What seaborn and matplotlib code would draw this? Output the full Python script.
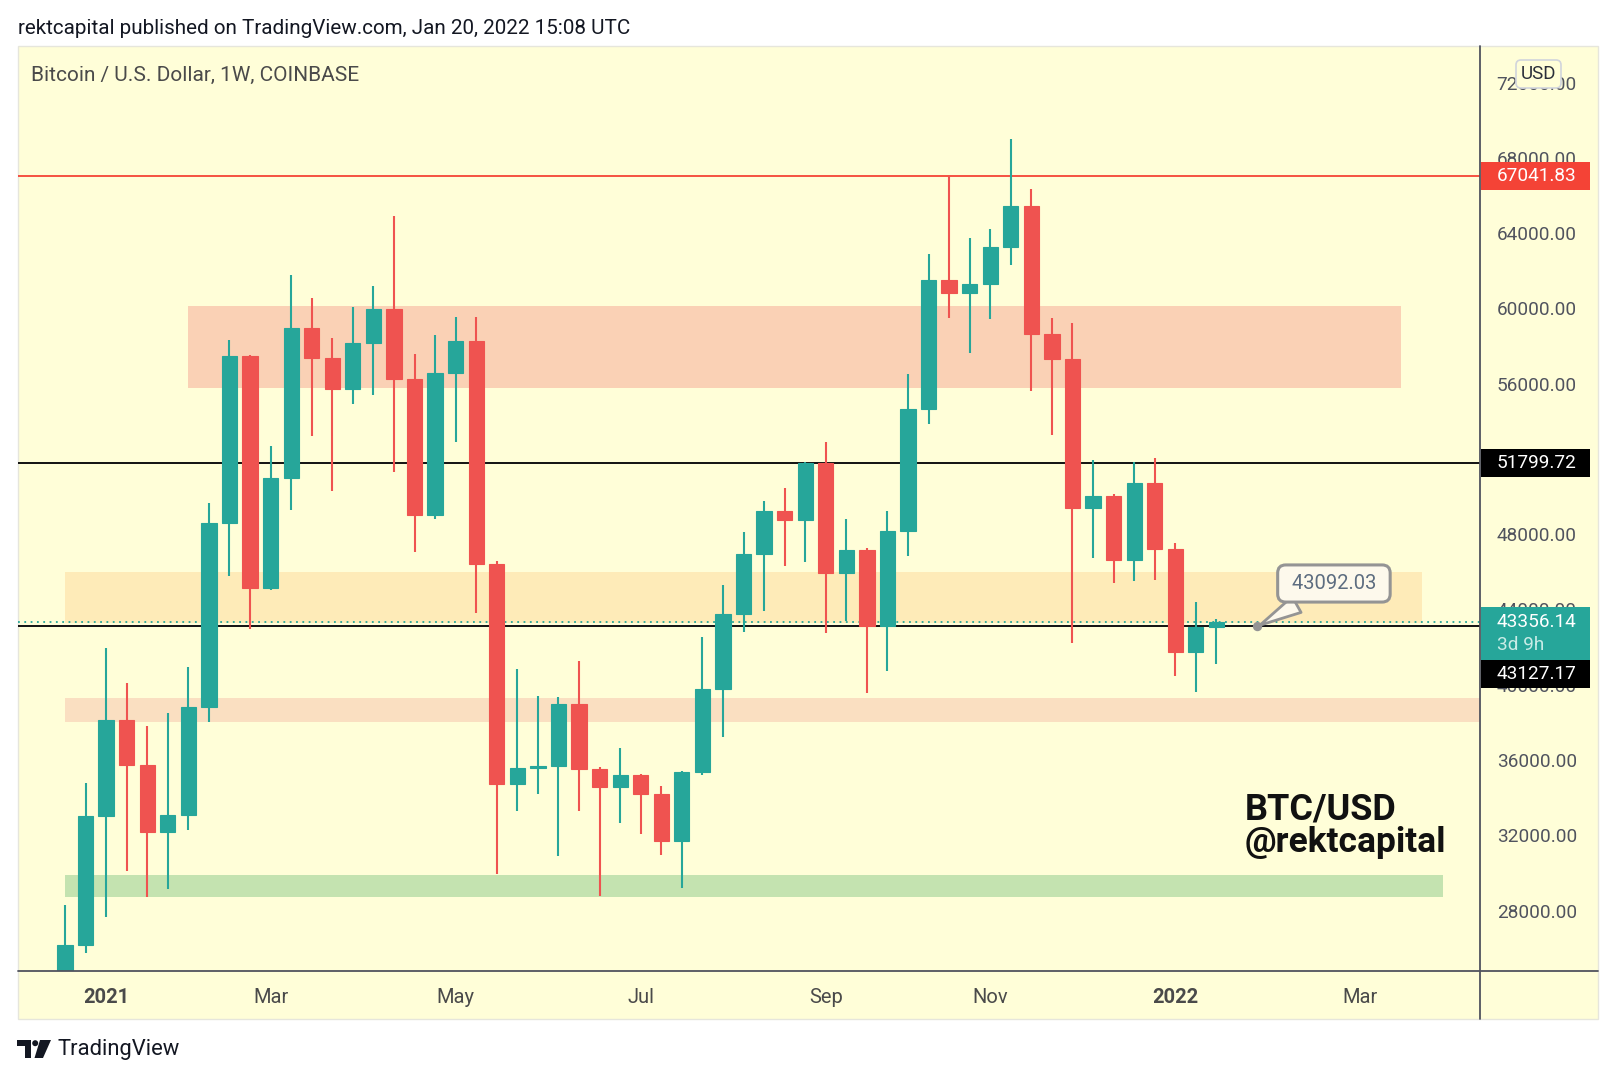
import numpy as np
import pandas as pd
import matplotlib
matplotlib.use("Agg")
import matplotlib.pyplot as plt
import matplotlib.dates as mdates
from matplotlib.patches import Rectangle, FancyBboxPatch, Circle, Polygon
from matplotlib.lines import Line2D
import seaborn as sns

# ---------------- data (weekly BTC/USD, Coinbase) ----------------
week_start = "2020-12-21"
opens = [23470, 26170, 33010, 38120, 35750, 32170, 33070, 38820, 48620, 57450,
         45150, 50960, 58940, 57340, 55740, 58180, 59950, 56250, 49030, 56580,
         58260, 46400, 34700, 35590, 35670, 38990, 35510, 34590, 35210, 34210,
         31710, 35350, 39770, 43760, 46970, 49250, 48760, 51790, 45940, 47180,
         43110, 48190, 54650, 61490, 60810, 61300, 63280, 65460, 58620, 57310,
         49410, 50010, 46610, 50740, 47210, 41760, 43080]
highs = [28320, 34780, 41970, 40070, 37790, 38500, 40940, 49660, 58340, 57530,
         52670, 61760, 60570, 58400, 60050, 61190, 64910, 57580, 58560, 59540,
         59540, 46590, 40830, 39390, 39340, 41270, 35650, 36650, 35260, 34610,
         35400, 42520, 45310, 48110, 49760, 50440, 51850, 52910, 48810, 47290,
         49250, 56520, 62880, 67041.83, 63720, 64240, 68990, 66330, 59510, 59210,
         51960, 50120, 51830, 52040, 47510, 44390, 43500]
lows = [22350, 25770, 27640, 30080, 28720, 29130, 32280, 38040, 45770, 42980,
        45010, 49300, 53240, 50280, 54920, 55410, 51280, 47050, 48810, 52890,
        43790, 29940, 33280, 34180, 30920, 33280, 28750, 32660, 32060, 30980,
        29210, 35180, 37220, 42790, 43930, 46290, 46530, 42760, 43380, 39580,
        40720, 46860, 53840, 59510, 57610, 59460, 62310, 55630, 53290, 42240,
        46720, 45420, 45500, 45580, 40450, 39640, 41080]
closes = [26170, 33010, 38120, 35750, 32170, 33070, 38820, 48620, 57450, 45150,
          50960, 58940, 57340, 55740, 58180, 59950, 56250, 49030, 56580, 58260,
          46400, 34700, 35590, 35670, 38990, 35510, 34590, 35210, 34210, 31710,
          35350, 39770, 43760, 46970, 49250, 48760, 51790, 45940, 47180, 43110,
          48190, 54650, 61490, 60810, 61300, 63280, 65460, 58620, 57310, 49410,
          50010, 46610, 50740, 47210, 41760, 43080, 43356.14]

# horizontal levels
level_red = 67041.83
level_black_hi = 51799.72
level_black_lo = 43127.17
last_price = 43356.14
callout_price = 43092.03
callout_date = "2022-01-31"

# zones: (start, end, low, high)
zone_starts = ["2021-02-01", "2020-12-21", "2020-12-21", "2020-12-21"]
zone_ends = ["2022-03-21", "2022-03-28", "2022-06-30", "2022-04-04"]
zone_lows = [55750, 43300, 38000, 28700]
zone_highs = [60100, 45970, 39300, 29900]

tick_dates = ["2021-01-04", "2021-03-01", "2021-05-03", "2021-07-05",
              "2021-09-06", "2021-11-01", "2022-01-03", "2022-03-07"]
tick_labels = ["2021", "Mar", "May", "Jul", "Sep", "Nov", "2022", "Mar"]
price_ticks = [28000, 32000, 36000, 40000, 44000, 48000, 52000, 56000,
               60000, 64000, 68000, 72000]

# ---------------- style ----------------
sns.set_theme(style="white")
plt.rcParams["font.family"] = ["Roboto", "DejaVu Sans"]

BG = "#fffed8"
GREEN = "#26a69a"
RED = "#ef5350"
AXC = "#50535e"
zone_colors = ["#fad1b5", "#feebb8", "#fadfc1", "#c4e3b0"]

W, H = 1617, 1080
fig = plt.figure(figsize=(W / 100, H / 100), dpi=100)
fig.patch.set_facecolor("white")

def fx(px):
    return px / W

def fy(py):
    return 1 - py / H

# chart frame background
fig.add_artist(Rectangle((fx(17.5), fy(1019)), fx(1598) - fx(17.5), fy(46) - fy(1019),
                         transform=fig.transFigure, fc=BG, ec="#e6e6dc", lw=1, zorder=-5))

L, R, T, B = 17.5, 1480, 46, 971
ax = fig.add_axes([fx(L), fy(B), fx(R) - fx(L), fy(T) - fy(B)])
ax.set_facecolor(BG)
ax.patch.set_alpha(0)
for s in ax.spines.values():
    s.set_visible(False)

dates = pd.date_range(week_start, periods=len(opens), freq="7D")
x = mdates.date2num(dates)
o = np.array(opens, float)
c = np.array(closes, float)
h = np.array(highs, float)
lo = np.array(lows, float)
up = c >= o
cols = np.where(up, GREEN, RED)

ymin, ymax = 24790, 73940
xmin = mdates.date2num(pd.Timestamp("2021-01-04")) - 4.31 * 7
xmax = mdates.date2num(pd.Timestamp("2021-01-04")) + 66.82 * 7
ax.set_xlim(xmin, xmax)
ax.set_ylim(ymin, ymax)
ppx = (ymax - ymin) / (B - T)  # price per pixel

# zones
for s0, s1, zl, zh, zc in zip(zone_starts, zone_ends, zone_lows, zone_highs, zone_colors):
    a0 = mdates.date2num(pd.Timestamp(s0))
    a1 = mdates.date2num(pd.Timestamp(s1))
    ax.add_patch(Rectangle((a0, zl), a1 - a0, zh - zl, fc=zc, ec="none", zorder=1))

# level lines
ax.axhline(level_red, color="#f44336", lw=1.3, zorder=2)
ax.axhline(level_black_hi, color="#111111", lw=1.4, zorder=2)
ax.axhline(level_black_lo, color="#111111", lw=1.4, zorder=2)
ax.axhline(last_price, color=GREEN, lw=1.3, ls=(0, (1, 2.5)), zorder=2)

# candles
ax.vlines(x, lo, h, colors=cols, lw=1.5, zorder=3)
ax.bar(x, np.abs(c - o), bottom=np.minimum(o, c), width=5.2, color=cols,
       edgecolor=cols, linewidth=0.8, zorder=4)

# callout
cx = mdates.date2num(pd.Timestamp(callout_date))
ax.annotate(f" {callout_price:.2f} ", xy=(cx, callout_price), xytext=(55, 31),
            textcoords="offset points", ha="center", va="center",
            fontsize=14.5, color="#5d6d80",
            bbox=dict(boxstyle="round,pad=0.45,rounding_size=0.4", fc="#fdf9ec",
                      ec="#949494", lw=2.2),
            arrowprops=dict(arrowstyle="wedge,tail_width=0.9,shrink_factor=0.5",
                            fc="#fdf9ec", ec="#949494", lw=2.0), zorder=6)
sns.scatterplot(x=[cx], y=[callout_price], s=45, color="#949494", edgecolor="none",
                ax=ax, zorder=7)

# axes ticks
ax.yaxis.tick_right()
ax.set_yticks(price_ticks)
ax.set_yticklabels([f"{v:.2f}" for v in price_ticks])
ax.tick_params(axis="y", length=0, pad=12, labelsize=13.7, labelcolor="#50535e")
ax.set_xticks(mdates.date2num(pd.to_datetime(tick_dates)))
ax.set_xticklabels(tick_labels)
ax.tick_params(axis="x", length=0, pad=12, labelsize=14.5, labelcolor="#4a4a4a")
for lab in ax.get_xticklabels():
    if lab.get_text() in ("2021", "2022"):
        lab.set_fontweight("bold")
ax.set_xlabel("")
ax.set_ylabel("")
ax.grid(False)

# axis separator lines
fig.add_artist(Line2D([fx(R), fx(R)], [fy(T), fy(1019)], color=AXC, lw=1.3,
                      transform=fig.transFigure, zorder=10))
fig.add_artist(Line2D([fx(L), fx(1598)], [fy(B), fy(B)], color=AXC, lw=1.3,
                      transform=fig.transFigure, zorder=10))

# price-axis overlay (labels)
pax = fig.add_axes([fx(R), fy(B), fx(1598) - fx(R), fy(T) - fy(B)])
pax.set_xlim(0, 1598 - R)
pax.set_ylim(ymin, ymax)
pax.axis("off")
ax.set_zorder(1)
pax.set_zorder(2)

def tag(yc, text, fc, tc, hpx=28):
    pax.add_patch(Rectangle((1, yc - hpx / 2 * ppx), 109, hpx * ppx, fc=fc, ec="none"))
    pax.text(17, yc, text, color=tc, fontsize=13.7, va="center", ha="left")

tag(level_red, f"{level_red:.2f}", "#f44336", "white")
tag(level_black_hi, f"{level_black_hi:.2f}", "black", "white")
# live price tag (two lines)
top = last_price + 14.5 * ppx
pax.add_patch(Rectangle((1, top - 53 * ppx), 109, 53 * ppx, fc=GREEN, ec="none"))
pax.text(17, last_price, f"{last_price:.2f}", color="white", fontsize=13.7, va="center")
pax.text(17, last_price - 23 * ppx, "3d 9h", color="#c9ece6", fontsize=13.7, va="center")
tag(top - 53 * ppx - 14 * ppx, f"{level_black_lo:.2f}", "black", "white")

# USD badge
pax.add_patch(FancyBboxPatch((36, ymax - 42 * ppx), 45, 28 * ppx,
                             boxstyle="round,pad=0,rounding_size=5",
                             mutation_aspect=ppx, fc=BG, ec="#d1d4dc", lw=1.2))
pax.text(58.5, ymax - 28 * ppx, "USD", fontsize=13.5, color="#2a2e39",
         ha="center", va="center")

# texts
fig.text(fx(17.5), fy(29), "rektcapital published on TradingView.com, Jan 20, 2022 15:08 UTC",
         fontsize=14.9, color="#131722", va="center", ha="left")
fig.text(fx(31), fy(75), "Bitcoin / U.S. Dollar, 1W, COINBASE",
         fontsize=15, color="#4a4a4a", va="center", ha="left")
fig.text(fx(1245), fy(820), "BTC/USD", fontsize=26, fontweight="bold",
         color="#111111", va="baseline", ha="left")
fig.text(fx(1245), fy(852), "@rektcapital", fontsize=25.5, fontweight="bold",
         color="#111111", va="baseline", ha="left")

# TradingView logo + wordmark
lax = fig.add_axes([fx(17), fy(1058), fx(51) - fx(17), fy(1040) - fy(1058)])
lax.set_xlim(0, 34)
lax.set_ylim(18, 0)
lax.axis("off")
lax.add_patch(Rectangle((0, 0), 14, 6, fc="#131722", ec="none"))
lax.add_patch(Rectangle((7.5, 0), 6.5, 18, fc="#131722", ec="none"))
lax.add_patch(Circle((18.2, 3.2), 3.0, fc="#131722", ec="none"))
lax.add_patch(Polygon([(23, 0), (34, 0), (26, 18), (17.5, 18)], closed=True,
                      fc="#131722", ec="none"))
fig.text(fx(57), fy(1049), "TradingView", fontsize=15.8, color="#131722",
         va="center", ha="left")

fig.savefig("out.png", dpi=100, facecolor="white")
